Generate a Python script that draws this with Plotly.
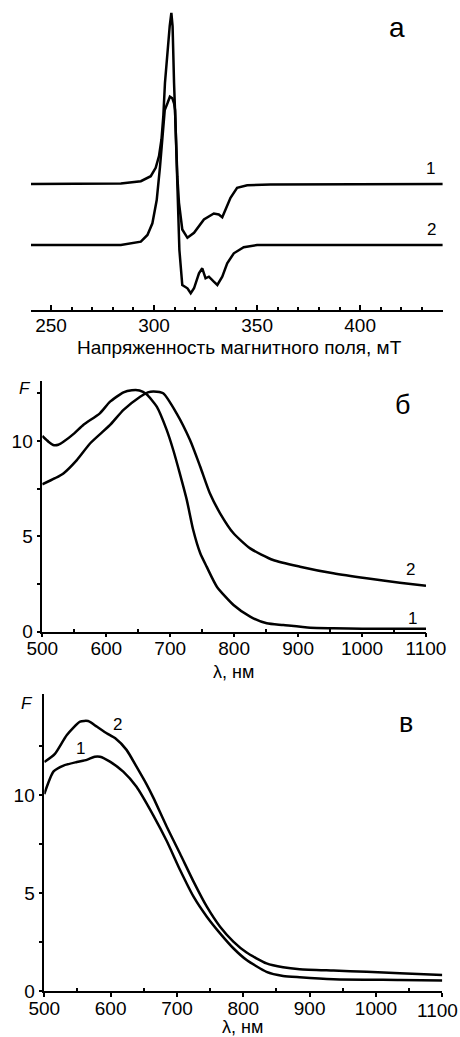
import plotly.graph_objects as go

# ---------- Panel а: EPR spectra (relative intensity, arbitrary units) ----------
epr1_field = [240, 283.9, 293.6, 298.4, 300.8, 302.4, 303.6, 304.5, 305.3, 306.5, 307.6, 308.4,
              309.0, 309.7, 310.5, 311.3, 312.1, 313.7, 316.2, 319.4, 324.2, 329.0, 331.4,
              333.1, 334.7, 337.1, 340.3, 345.2, 356.5, 440]
epr1_signal = [0, 0.5, 2.8, 7.8, 16.2, 27.8, 44.5, 67.8, 101.2, 134.5, 157.8, 171.2,
               157.8, 101.2, 51.2, 7.8, -18.8, -45.5, -53.8, -48.8, -35.5, -29.5, -30.5,
               -33.2, -25.5, -13.8, -3.8, -1.2, -0.5, 0]

epr2_field = [240, 283.9, 293.6, 296.8, 299.2, 301.3, 302.9, 304.1, 305.2, 306.5, 307.7, 308.9,
              309.7, 310.2, 310.8, 311.6, 312.3, 313.7, 316.2, 317.8, 319.4, 321.8, 323.4,
              325.0, 326.6, 329.0, 330.7, 333.1, 335.5, 338.7, 343.5, 350.0, 440]
epr2_signal = [0, 0, 3.3, 10, 21.7, 45, 78.3, 111.7, 135, 141.7, 148.3, 146.7,
               141.7, 135, 95, 45, -5, -40, -43.3, -48.3, -43.3, -28.3, -23.3,
               -33.3, -31.7, -36.7, -40, -31.7, -18.3, -8.3, -2.3, 0, 0]
epr_offset1 = 61  # vertical shift of spectrum 1 above spectrum 2

# ---------- Panel б ----------
b1_nm = [500, 510, 517, 525, 533, 550, 564, 590, 606, 627, 640, 652, 663, 679, 694.5, 705,
         715, 726, 736, 747, 757, 773, 799, 825, 851, 877, 919, 955, 1000, 1100]
b1_F = [10.26, 9.95, 9.79, 9.8, 9.96, 10.4, 10.84, 11.45, 12.06, 12.55, 12.66, 12.65, 12.45,
        11.8, 10.58, 9.5, 8.3, 6.9, 5.33, 4.11, 3.41, 2.36, 1.40, 0.79, 0.44, 0.35, 0.21,
        0.18, 0.15, 0.15]
b2_nm = [500, 520, 533, 554, 575, 606, 627, 653, 665, 674, 689, 710, 731, 747, 762, 778, 799,
         825, 861, 903, 955, 1007, 1059, 1100]
b2_F = [7.73, 8.05, 8.3, 9.0, 9.88, 10.84, 11.63, 12.32, 12.55, 12.6, 12.5, 11.45, 10.05, 8.65,
        7.26, 6.21, 5.16, 4.37, 3.76, 3.41, 3.06, 2.8, 2.57, 2.41]

# ---------- Panel в ----------
c1_nm = [500, 514, 529, 549, 564, 576, 584, 599, 619, 639, 664.5, 684.6, 704.7, 725, 745, 765,
         785, 805, 835, 860, 885, 936, 1036, 1100]
c1_F = [10.05, 11.2, 11.5, 11.68, 11.79, 11.95, 11.95, 11.7, 11.19, 10.42, 8.95, 7.65, 6.17, 4.81,
        3.79, 2.94, 2.18, 1.58, 0.98, 0.77, 0.70, 0.60, 0.56, 0.53]
c2_nm = [500, 516, 534, 554, 566, 579, 594, 607, 624, 639, 654, 664.5, 684.6, 704.7, 725, 745,
         765, 785, 805, 835, 860, 885, 936, 986, 1036, 1100]
c2_F = [11.68, 12.1, 13.06, 13.74, 13.77, 13.49, 13.15, 12.89, 12.3, 11.44, 10.55, 9.85, 8.38,
        7.0, 5.58, 4.3, 3.28, 2.52, 1.96, 1.41, 1.21, 1.11, 1.04, 0.98, 0.90, 0.82]

nm_ticks = [500, 600, 700, 800, 900, 1000, 1100]

FONT = "Liberation Sans, Arial, sans-serif"
LINE = dict(color="black", width=2.5)
SPL = dict(shape="spline", smoothing=0.6, **LINE)

fig = go.Figure()
fig.add_trace(go.Scatter(x=epr1_field, y=[v + epr_offset1 for v in epr1_signal], mode="lines",
                         line=LINE, xaxis="x", yaxis="y", showlegend=False))
fig.add_trace(go.Scatter(x=epr2_field, y=epr2_signal, mode="lines",
                         line=LINE, xaxis="x", yaxis="y", showlegend=False))
fig.add_trace(go.Scatter(x=b1_nm, y=b1_F, mode="lines", line=SPL, xaxis="x2", yaxis="y2", showlegend=False))
fig.add_trace(go.Scatter(x=b2_nm, y=b2_F, mode="lines", line=SPL, xaxis="x2", yaxis="y2", showlegend=False))
fig.add_trace(go.Scatter(x=c1_nm, y=c1_F, mode="lines", line=SPL, xaxis="x3", yaxis="y3", showlegend=False))
fig.add_trace(go.Scatter(x=c2_nm, y=c2_F, mode="lines", line=SPL, xaxis="x3", yaxis="y3", showlegend=False))

W, H = 460, 1037
def px(x): return x / W
def py(y): return 1 - y / H

tickfont = dict(family=FONT, size=19, color="black")
common = dict(showline=True, linecolor="black", linewidth=1.5, showgrid=False, zeroline=False,
              tickfont=tickfont, tickcolor="black", tickwidth=1.5, mirror=False, automargin=False)
minor_in = dict(ticks="inside", ticklen=3, tickcolor="black", tickwidth=1.5)
minor_out = dict(ticks="outside", ticklen=4, tickcolor="black", tickwidth=1.5)

fig.update_layout(
    width=W, height=H, margin=dict(l=0, r=0, t=0, b=0, pad=0, autoexpand=False),
    paper_bgcolor="white", plot_bgcolor="white", showlegend=False,
    xaxis=dict(domain=[px(31), px(443)], range=[240.3, 440.2], anchor="y",
               tickvals=[250, 300, 350, 400], ticks="inside", ticklen=5, ticklabelstandoff=-3,
               minor=dict(tickvals=[260, 270, 280, 290, 310, 320, 330, 340, 360, 370, 380, 390, 410, 420, 430],
                          **minor_in),
               **common),
    yaxis=dict(domain=[py(310), py(5)], range=[-65, 240], anchor="x", visible=False),
    xaxis2=dict(domain=[px(42.3), px(426)], range=[500, 1100], anchor="y2",
                tickvals=nm_ticks, ticks="outside", ticklen=4, ticklabelstandoff=-5,
                minor=dict(tickvals=[550, 650, 750, 850, 950, 1050], **minor_in),
                **common),
    yaxis2=dict(domain=[py(631.7), py(380.7)], range=[0, 13.16], anchor="x2",
                tickvals=[0, 5, 10], ticks="outside", ticklen=4,
                minor=dict(tickvals=[2.5, 7.5, 12.5], **minor_out),
                **common),
    xaxis3=dict(domain=[px(44.3), px(442.3)], range=[500, 1100], anchor="y3",
                tickvals=nm_ticks, ticktext=[str(v) for v in nm_ticks[:-1]] + [""],
                ticks="outside", ticklen=4, ticklabelstandoff=-5,
                minor=dict(tickvals=[550, 650, 750, 850, 950, 1050], **minor_in),
                **common),
    yaxis3=dict(domain=[py(991), py(694)], range=[0, 15.15], anchor="x3",
                tickvals=[0, 5, 10], ticks="outside", ticklen=4,
                minor=dict(tickvals=[2.5, 7.5, 12.5], **minor_out),
                **common),
)

def ann(text, x, y, xref, yref, size, **kw):
    fig.add_annotation(text=text, x=x, y=y, xref=xref, yref=yref, showarrow=False,
                       font=dict(family=FONT, size=size, color="black"),
                       xanchor="center", yanchor="middle", **kw)

# Panel а labels
ann("1", 433.9, 76, "x", "y", 17)
ann("2", 434.8, 15, "x", "y", 17)
ann("а", 417.9, 217, "x", "y", 28)
ann("Напряженность магнитного поля, мТ", px(239), py(347), "paper", "paper", 19)

# Panel б labels
ann("2", 1076, 3.27, "x2", "y2", 17)
ann("1", 1078.6, 0.70, "x2", "y2", 17)
ann("б", 1063.6, 11.89, "x2", "y2", 27)
ann("<i>F</i>", px(25), py(388), "paper", "paper", 17)
ann("λ, нм", px(234), py(671.7), "paper", "paper", 18)

# Panel в labels
ann("2", 610, 13.6, "x3", "y3", 17)
ann("1", 555.3, 12.38, "x3", "y3", 17)
ann("в", 1044.9, 13.66, "x3", "y3", 27)
ann("<i>F</i>", px(26.7), py(703), "paper", "paper", 17)
ann("λ, нм", px(242.5), py(1027), "paper", "paper", 18)
# last tick label of panel в, shifted left to stay inside the page as in the original
ann(str(nm_ticks[-1]), px(437.5), py(1010), "paper", "paper", 19)

fig.write_html("out.html")
